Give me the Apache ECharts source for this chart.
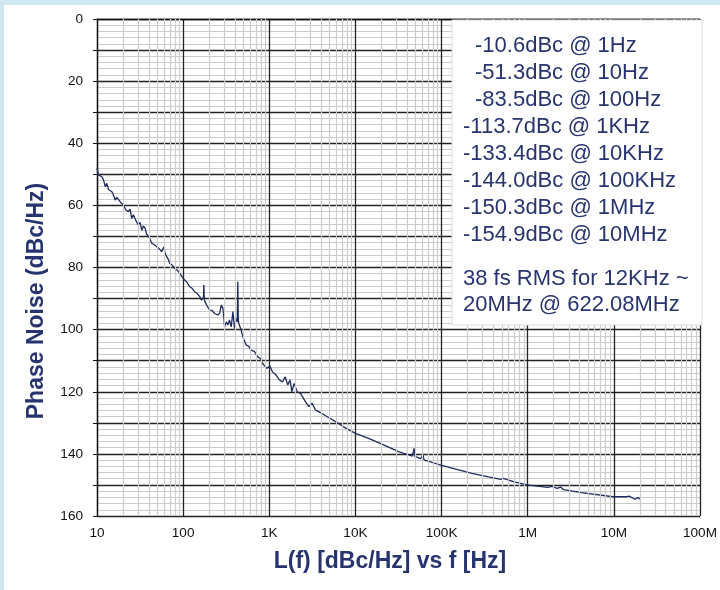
<!DOCTYPE html>
<html>
<head>
<meta charset="utf-8">
<script src="https://cdn.jsdelivr.net/npm/echarts@6/dist/echarts.min.js"></script>
<style>
  html, body { margin: 0; padding: 0; background: #cfe8ef; }
  #chart { width: 720px; height: 590px; }
</style>
</head>
<body>
<div id="chart"></div>
<script>
// offset frequency (Hz) and phase noise (dBc/Hz, shown positive, axis inverted)
let freq = [10, 10.4, 10.9, 11.4, 11.9, 12.5, 13.0, 13.6, 14.2, 14.9, 15.6, 16.3, 17.0, 17.8, 19.0,
    20.3, 21.6, 23.2, 24.2, 25.3, 26.4, 27.7, 28.9, 30.2, 31.6, 33.1, 34.5, 36.1, 37.7, 39.4,
    41.2, 43.2, 46.0, 49.3, 52.5, 56.3, 59.8, 62.0, 64.5, 67.0, 70.2, 75.0, 80.1, 85.5, 91.6, 97.0,
    104, 111, 119, 127, 136, 145, 156, 163,
    172, 174, 176, 179, 190, 203, 216, 232, 253, 266, 277, 290, 303, 317, 331, 345, 362, 378, 395, 413, 425,
    431, 437, 443, 471, 493, 537, 575, 612, 670, 730, 790, 838, 935, 1015, 1090, 1195, 1310, 1430, 1530, 1640,
    1740, 1830, 1940, 2110, 2310, 2420, 2630, 2880, 3140, 3430, 3750, 4090, 4870, 5880, 7290,
    10000, 14200, 20000, 31700, 40000, 45700, 48000, 49000, 49700, 56800, 61000, 62500, 64800,
    98000, 150000, 225000, 350000, 490000, 520000, 700000, 985000, 1300000, 1700000, 1900000,
    2200000, 2400000, 2600000, 4200000, 9800000, 14200000, 15000000, 17600000, 19200000, 20000000];
let noise = [48.1, 50.2, 49.9, 50.8, 51.8, 54.0, 52.9, 54.9, 54.4, 55.6, 56.8, 58.3, 57.4, 58.0, 59.2,
    59.9, 61.5, 62.0, 61.2, 64.2, 63.0, 63.6, 65.4, 66.3, 65.5, 68.0, 66.6, 67.3, 69.3, 70.0,
    70.8, 72.2, 72.6, 73.3, 73.9, 74.9, 73.3, 75.6, 76.5, 77.3, 78.7, 79.3, 80.3, 80.9, 81.9, 83.0,
    84.0, 84.8, 86.2, 86.7, 87.8, 88.3, 89.4, 90.5,
    89.8, 85.6, 90.2, 91.0, 92.4, 93.7, 93.8, 94.8, 95.3, 94.6, 92.1, 93.1, 99.1, 97.5, 98.5, 96.9, 99.1, 94.2, 99.6, 96.4, 97.5,
    84.6, 97.0, 98.0, 100.1, 102.3, 104.9, 105.3, 106.6, 107.0, 108.7, 109.3, 110.9, 112.5, 111.7, 113.6, 114.6, 116.2, 116.8, 115.2, 117.8,
    116.2, 120.0, 117.3, 120.0, 120.5, 121.6, 123.2, 124.8, 123.7, 125.9, 126.4, 127.0, 128.3, 129.6, 131.3,
    133.4, 135.0, 136.8, 139.3, 140.2, 140.7, 138.2, 140.8, 140.9, 141.5, 140.4, 141.9, 142.0,
    143.6, 145.0, 146.3, 147.4, 148.2, 147.9, 149.0, 150.0, 150.4, 150.8, 150.5,
    151.1, 150.7, 151.5, 152.5, 153.8, 153.8, 153.6, 154.6, 154.0, 154.6];

let xTickLabels = {1: '10', 2: '100', 3: '1K', 4: '10K', 5: '100K', 6: '1M', 7: '10M', 8: '100M'};
let decades = [10, 100, 1000, 10000, 100000, 1000000, 10000000];
let minorSteps = [2, 3, 4, 5, 6, 7, 8, 9];

let spotLines = ['-10.6dBc @ 1Hz', '-51.3dBc @ 10Hz', '-83.5dBc @ 100Hz', '-113.7dBc @ 1KHz',
    '-133.4dBc @ 10KHz', '-144.0dBc @ 100KHz', '-150.3dBc @ 1MHz', '-154.9dBc @ 10MHz'];
let jitterLines = ['38 fs RMS for 12KHz ~', '20MHz @ 622.08MHz'];

(function () {
    let chart = echarts.init(document.getElementById('chart'));
    let font = '"Liberation Sans", Arial, Helvetica, sans-serif';
    let navy = '#27346f';

    let minorX = [];
    decades.forEach(function (d) {
        minorSteps.forEach(function (m) {
            minorX.push({xAxis: d * m});
        });
    });

    let graphics = [
        {type: 'rect', z: -10, shape: {x: 4, y: 5, width: 716, height: 585}, style: {fill: '#ffffff'}},
        {type: 'rect', z: 10, shape: {x: 452, y: 20, width: 250, height: 305},
            style: {fill: '#ffffff', stroke: '#dddddd', lineWidth: 1}},
        {type: 'text', z: 10, x: 390, y: 562,
            style: {text: 'L(f) [dBc/Hz] vs f [Hz]', font: 'bold 23px ' + font, fill: navy,
                textAlign: 'center', verticalAlign: 'middle'}},
        {type: 'text', z: 10, x: 37, y: 301, rotation: Math.PI / 2,
            style: {text: 'Phase Noise (dBc/Hz)', font: 'bold 23px ' + font, fill: navy,
                textAlign: 'center', verticalAlign: 'middle'}}
    ];
    spotLines.forEach(function (t, i) {
        graphics.push({type: 'text', z: 11, x: i < 3 ? 475 : 463, y: 46 + 27 * i,
            style: {text: t, font: '22px ' + font, fill: navy, verticalAlign: 'middle'}});
    });
    jitterLines.forEach(function (t, i) {
        graphics.push({type: 'text', z: 11, x: 463, y: 279 + 26 * i,
            style: {text: t, font: '22px ' + font, fill: navy, verticalAlign: 'middle'}});
    });

    let option = {
        animation: false,
        backgroundColor: '#cfe8ef',
        grid: {left: 97, right: 17, top: 19, bottom: 74},
        xAxis: {
            type: 'log',
            logBase: 10,
            min: 10,
            max: 100000000,
            splitNumber: 7,
            axisLine: {show: true, lineStyle: {color: '#111111', width: 1.3}},
            axisTick: {show: true, length: 4, lineStyle: {color: '#111111'}},
            axisLabel: {
                color: '#111111', fontSize: 13.6, fontFamily: font, margin: 10,
                formatter: function (v) {
                    return xTickLabels[Math.round(Math.log10(v))] || '';
                }
            },
            splitLine: {show: true, lineStyle: {color: '#222222', width: 1.3}}
        },
        yAxis: {
            type: 'value',
            inverse: true,
            min: 0,
            max: 160,
            interval: 10,
            axisLine: {show: true, lineStyle: {color: '#111111', width: 1.3}},
            axisTick: {show: true, length: 4, lineStyle: {color: '#111111'}},
            axisLabel: {
                color: '#111111', fontSize: 13.6, fontFamily: font, margin: 14,
                formatter: function (v) {
                    return v % 20 === 0 ? String(v) : '';
                }
            },
            splitLine: {show: true, lineStyle: {color: '#222222', width: 1.3}},
            minorTick: {show: false, splitNumber: 5},
            minorSplitLine: {show: true, lineStyle: {color: '#cccccc', width: 1.2}}
        },
        graphic: graphics,
        series: [
            {
                type: 'line',
                z: -1,
                data: [],
                silent: true,
                markLine: {
                    silent: true,
                    symbol: ['none', 'none'],
                    label: {show: false},
                    lineStyle: {type: 'solid', color: '#cccccc', width: 1.2},
                    data: minorX
                }
            },
            {
                type: 'line',
                z: 3,
                data: freq.map(function (f, i) { return [f, noise[i]]; }),
                showSymbol: false,
                symbol: 'none',
                lineStyle: {color: '#1f2a5c', width: 1.3},
                itemStyle: {color: '#1f2a5c'}
            }
        ]
    };

    chart.setOption(option);
})();
</script>
</body>
</html>
